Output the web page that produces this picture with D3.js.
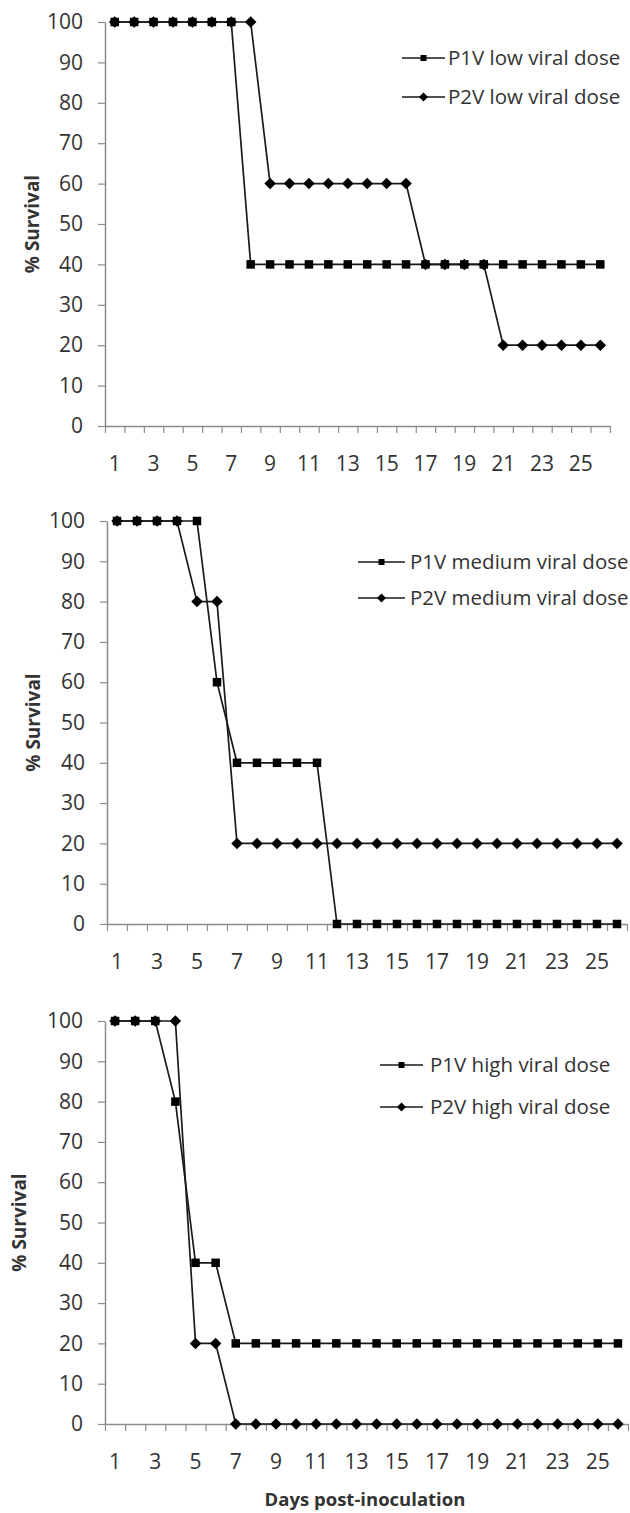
<!DOCTYPE html>
<html>
<head>
<meta charset="utf-8">
<script src="https://cdn.jsdelivr.net/npm/d3@7"></script>
<style>
  html, body { margin: 0; padding: 0; background: #fff; }
  svg { display: block; }
  text { font-family: "Open Sans", sans-serif; fill: #333; }
</style>
</head>
<body>
<svg id="chart" width="630" height="1513"></svg>
<script>
// ---- Data ----
const days = [1,2,3,4,5,6,7,8,9,10,11,12,13,14,15,16,17,18,19,20,21,22,23,24,25,26];
const xTickLabels = [1,3,5,7,9,11,13,15,17,19,21,23,25];
const yTickValues = [0,10,20,30,40,50,60,70,80,90,100];

const p1vLow = [100,100,100,100,100,100,100,40,40,40,40,40,40,40,40,40,40,40,40,40,40,40,40,40,40,40];
const p2vLow = [100,100,100,100,100,100,100,100,60,60,60,60,60,60,60,60,40,40,40,40,20,20,20,20,20,20];

const p1vMedium = [100,100,100,100,100,60,40,40,40,40,40,0,0,0,0,0,0,0,0,0,0,0,0,0,0,0];
const p2vMedium = [100,100,100,100,80,80,20,20,20,20,20,20,20,20,20,20,20,20,20,20,20,20,20,20,20,20];

const p1vHigh = [100,100,100,80,40,40,20,20,20,20,20,20,20,20,20,20,20,20,20,20,20,20,20,20,20,20];
const p2vHigh = [100,100,100,100,20,20,0,0,0,0,0,0,0,0,0,0,0,0,0,0,0,0,0,0,0,0];

const seriesNamesLow = ["P1V low viral dose", "P2V low viral dose"];
const seriesNamesMedium = ["P1V medium viral dose", "P2V medium viral dose"];
const seriesNamesHigh = ["P1V high viral dose", "P2V high viral dose"];

const yTitle = "% Survival";
const xTitle = "Days post-inoculation";

// ---- Layout ----
const panels = [
  { s1: p1vLow, s2: p2vLow, names: seriesNamesLow,
    left: 105, right: 610, top: 22, bottom: 426,
    legLine: [402, 445], legText: 448, legRows: [58, 97], yTitleX: 32 },
  { s1: p1vMedium, s2: p2vMedium, names: seriesNamesMedium,
    left: 107, right: 627, top: 521, bottom: 924,
    legLine: [358, 405], legText: 410, legRows: [562, 598], yTitleX: 33 },
  { s1: p1vHigh, s2: p2vHigh, names: seriesNamesHigh,
    left: 105, right: 628, top: 1021, bottom: 1424,
    legLine: [380, 423], legText: 430, legRows: [1065, 1107], yTitleX: 19 }
];

const svg = d3.select("#chart");
const axisColor = "#8c8c8c";
const lineColor = "#1a1a1a";
const tickFont = "21px";

function drawMarker(g, type, cx, cy, size) {
  if (type === "square") {
    g.append("rect")
      .attr("x", cx - size / 2).attr("y", cy - size / 2)
      .attr("width", size).attr("height", size)
      .attr("fill", "#000");
  } else {
    const h = size / 2;
    g.append("path")
      .attr("d", `M${cx},${cy - h}L${cx + h},${cy}L${cx},${cy + h}L${cx - h},${cy}Z`)
      .attr("fill", "#000");
  }
}

panels.forEach(p => {
  const g = svg.append("g");
  const x = d3.scaleBand().domain(days).range([p.left, p.right]).padding(0);
  const xEdge = d3.scaleLinear().domain([0, days.length]).range([p.left, p.right]);
  const y = d3.scaleLinear().domain([0, 100]).range([p.bottom, p.top]);
  const cx = d => x(d) + x.bandwidth() / 2;

  // Y axis
  const yAxis = g.append("g")
    .attr("transform", `translate(${p.left},0)`)
    .call(d3.axisLeft(y).tickValues(yTickValues).tickSize(7).tickPadding(15).tickSizeOuter(0));
  yAxis.select(".domain").attr("stroke", axisColor).attr("stroke-width", 1.5);
  yAxis.selectAll(".tick line").attr("stroke", axisColor).attr("stroke-width", 1.2);
  yAxis.selectAll(".tick text")
    .style("font-family", "'Open Sans', sans-serif").style("font-size", tickFont).attr("fill", "#333");

  // X axis (ticks at category boundaries)
  const xAxis = g.append("g")
    .attr("transform", `translate(0,${p.bottom})`)
    .call(d3.axisBottom(xEdge).tickValues(d3.range(days.length + 1)).tickSize(7).tickFormat("").tickSizeOuter(0));
  xAxis.select(".domain").attr("stroke", axisColor).attr("stroke-width", 1.5);
  xAxis.selectAll(".tick line").attr("stroke", axisColor).attr("stroke-width", 1.2);

  // X labels at category centers
  const xLab = g.append("g")
    .attr("transform", `translate(0,${p.bottom})`)
    .call(d3.axisBottom(x).tickValues(xTickLabels).tickSize(0).tickPadding(30));
  xLab.select(".domain").remove();
  xLab.selectAll(".tick text")
    .style("font-family", "'Open Sans', sans-serif").style("font-size", tickFont).attr("fill", "#333");

  // Y title
  g.append("text")
    .attr("transform", `translate(${p.yTitleX},${(p.top + p.bottom) / 2}) rotate(-90)`)
    .attr("text-anchor", "middle").attr("dy", "0.35em")
    .style("font-size", "19px").style("font-weight", "bold").attr("fill", "#222")
    .text(yTitle);

  // Series lines
  const line = d3.line().x((v, i) => cx(days[i])).y(v => y(v));
  [p.s1, p.s2].forEach(vals => {
    g.append("path").datum(vals)
      .attr("d", line).attr("fill", "none")
      .attr("stroke", lineColor).attr("stroke-width", 1.7);
  });
  [[p.s1, "square", 8.5], [p.s2, "diamond", 11.5]].forEach(([vals, type, size]) => {
    vals.forEach((v, i) => drawMarker(g, type, cx(days[i]), y(v), size));
  });

  // Legend
  [["square", 6], ["diamond", 9]].forEach(([type, size], k) => {
    const ly = p.legRows[k];
    g.append("line")
      .attr("x1", p.legLine[0]).attr("x2", p.legLine[1])
      .attr("y1", ly).attr("y2", ly)
      .attr("stroke", lineColor).attr("stroke-width", 1.7);
    drawMarker(g, type, (p.legLine[0] + p.legLine[1]) / 2, ly, size);
    g.append("text")
      .attr("x", p.legText).attr("y", ly).attr("dy", "0.36em")
      .style("font-size", "20.5px")
      .text(p.names[k]);
  });
});

// X title
svg.append("text")
  .attr("x", 365).attr("y", 1500).attr("dy", "0.35em")
  .attr("text-anchor", "middle")
  .style("font-size", "18.5px").style("font-weight", "bold").attr("fill", "#222")
  .text(xTitle);
</script>
</body>
</html>
